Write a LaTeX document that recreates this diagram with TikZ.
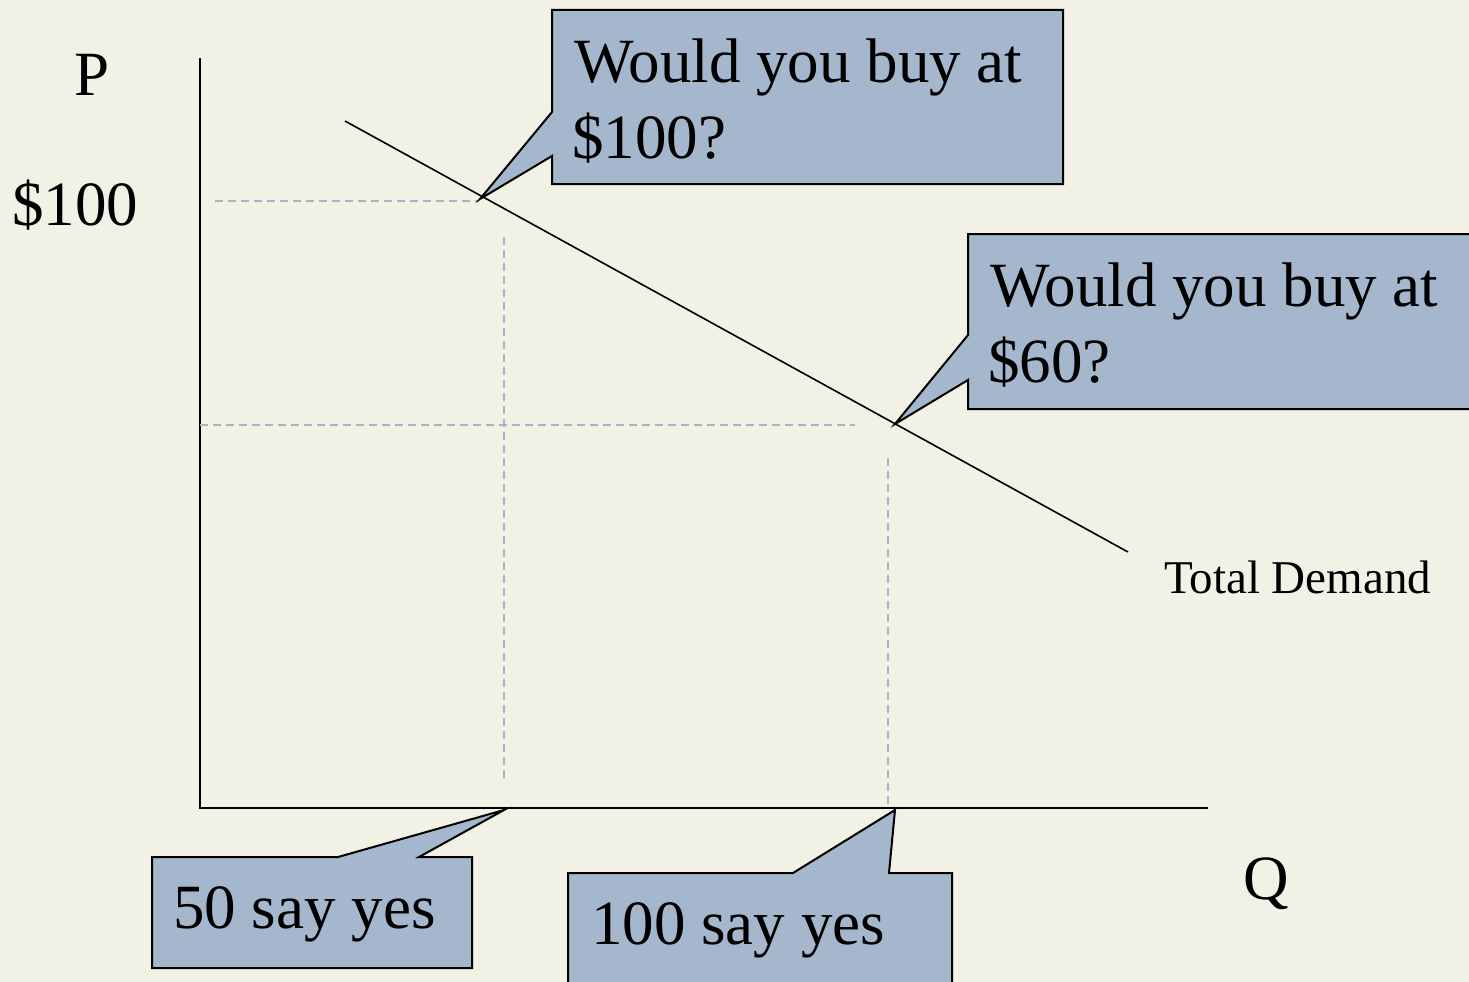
\documentclass[tikz,border=0pt]{standalone}
\usepackage{fontspec}
\setmainfont{Liberation Serif}
\definecolor{bgcol}{RGB}{242,241,230}
\definecolor{boxcol}{RGB}{165,183,204}
\definecolor{dashcol}{RGB}{165,180,198}
\begin{document}
\begin{tikzpicture}[x=1pt,y=-1pt,
  axisline/.style={line width=2pt,black},
  demandline/.style={line width=1.6pt,black},
  guide/.style={line width=2pt,dashcol,dash pattern=on 8pt off 5pt},
  callout/.style={fill=boxcol,draw=black,line width=2pt,line join=miter},
  bigtext/.style={inner sep=0pt,font=\fontsize{63}{76}\selectfont},
  smalltext/.style={inner sep=0pt,font=\fontsize{47}{56}\selectfont}]
\fill[bgcol] (0,0) rectangle (1469,982);
\useasboundingbox (0,0) rectangle (1469,982);
% axes
\coordinate (ytop) at (200,58);
\coordinate (origin) at (200,808);
\coordinate (xend) at (1208,808);
\draw[axisline] (ytop) -- (origin) -- (xend);
% guides
\coordinate (g1a) at (215,201); \coordinate (g1b) at (479,201);
\coordinate (g2a) at (504,237); \coordinate (g2b) at (504,778);
\coordinate (g3a) at (200,425); \coordinate (g3b) at (855,425);
\coordinate (g4a) at (888,458); \coordinate (g4b) at (888,808);
\draw[guide] (g1a) -- (g1b);
\draw[guide] (g2a) -- (g2b);
\draw[guide] (g3a) -- (g3b);
\draw[guide] (g4a) -- (g4b);
% demand
\coordinate (d1) at (345,121);
\coordinate (d2) at (1128,552);
\draw[demandline] (d1) -- (d2);
% labels
\node[bigtext,anchor=base] (plab) at (92,95) {P};
\node[bigtext,anchor=base west] (p100) at (12,225) {\$100};
\node[bigtext,anchor=base] (qlab) at (1266,899) {Q};
\node[smalltext,anchor=base west] (tdlab) at (1164,593) {Total Demand};
% callout 1
\draw[callout] (552,10) -- (1063,10) -- (1063,184) -- (552,184) -- (552,156) -- (480,199) -- (552,112) -- cycle;
\node[bigtext,anchor=base west] (c1a) at (574,82) {Would you buy at};
\node[bigtext,anchor=base west] (c1b) at (572,158) {\$100?};
% callout 2
\draw[callout] (968,234) -- (1475,234) -- (1475,409) -- (968,409) -- (968,380) -- (895,424) -- (968,335) -- cycle;
\node[bigtext,anchor=base west] (c2a) at (990,306) {Would you buy at};
\node[bigtext,anchor=base west] (c2b) at (988,382) {\$60?};
% callout 3
\draw[callout] (152,857) -- (338,857) -- (504,810) -- (419,857) -- (472,857) -- (472,968) -- (152,968) -- cycle;
\node[bigtext,anchor=base west] (c3) at (173,928) {50 say yes};
% callout 4
\draw[callout] (568,873) -- (793,873) -- (895,810) -- (889,873) -- (952,873) -- (952,990) -- (568,990) -- cycle;
\node[bigtext,anchor=base west] (c4) at (591,944) {100 say yes};
\end{tikzpicture}
\end{document}
